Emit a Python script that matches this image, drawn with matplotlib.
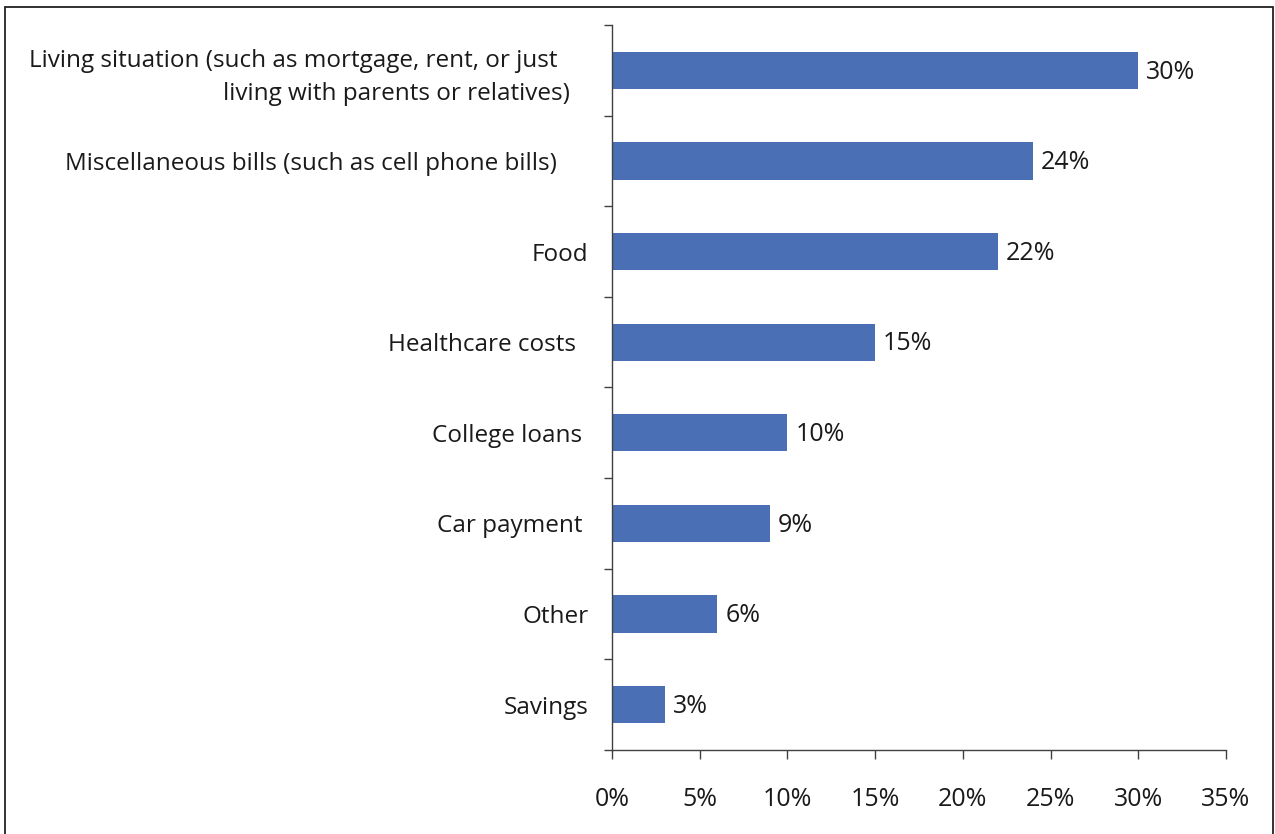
import matplotlib.pyplot as plt
import matplotlib.patches as patches
import numpy as np

# data (top to bottom as shown)
categories = ['Living situation (such as mortgage, rent, or just     \nliving with parents or relatives)   ',
              'Miscellaneous bills (such as cell phone bills)     ',
              'Food',
              'Healthcare costs  ',
              'College loans ',
              'Car payment ',
              'Other',
              'Savings']
values = [30, 24, 22, 15, 10, 9, 6, 3]
xticks = [0, 5, 10, 15, 20, 25, 30, 35]

plt.rcParams['font.family'] = ['Open Sans', 'DejaVu Sans']

fig = plt.figure(figsize=(12.75, 8.34), dpi=100)
ax = fig.add_axes([612/1275, 1-750/834, (1226-612)/1275, (750-25)/834])

bar_color = '#4a6fb4'
ypos = np.arange(len(categories))
ax.barh(ypos, values, height=0.41, color=bar_color)
for y, v in zip(ypos, values):
	ax.text(v + 0.45, y + 0.02, str(v) + '%', va='center', ha='left', fontsize=18, color='#1a1a1a')

ax.set_ylim(len(categories) - 0.5, -0.5)
ax.set_xlim(0, 35)
ax.set_xticks(xticks)
ax.set_xticklabels([str(t) + '%' for t in xticks], fontsize=18, color='#1a1a1a')
ax.set_yticks(ypos)
ax.set_yticklabels(categories, fontsize=17.5, color='#1a1a1a', multialignment='right', linespacing=1.5)
ax.set_yticks(np.arange(len(categories) + 1) - 0.5, minor=True)

ax.tick_params(axis='y', which='major', length=0, pad=17)
ax.tick_params(axis='y', which='minor', length=6, width=1, color='#404040', direction='out')
ax.tick_params(axis='x', which='major', length=6.5, width=1, color='#404040', direction='out', pad=20)

for s in ['top', 'right']:
	ax.spines[s].set_visible(False)
for s in ['left', 'bottom']:
	ax.spines[s].set_color('#404040')
	ax.spines[s].set_linewidth(1)

# outer frame
border = patches.Rectangle((5/1275, -0.01), 1268/1275, 1.01 - 7/834, transform=fig.transFigure,
						   fill=False, edgecolor='#222222', linewidth=1.3, clip_on=False)
fig.patches.append(border)

plt.savefig('out.png', dpi=100)
